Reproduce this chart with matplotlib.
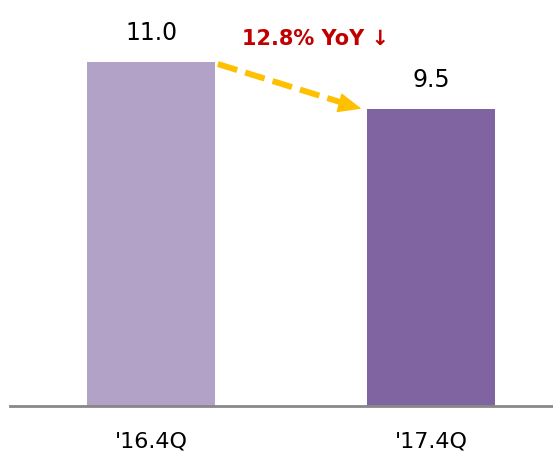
import matplotlib
matplotlib.use("Agg")
import matplotlib.pyplot as plt

categories = ["'16.4Q", "'17.4Q"]
values = [11.0, 9.5]
value_labels = ["11.0", "9.5"]
colors = ["#b3a2c7", "#8064a2"]
change_label = "12.8% YoY"

fig = plt.figure(figsize=(5.53, 4.53), dpi=100)
ax = fig.add_axes([10/553, 47/453, 543/553, 406/453])
x = list(range(len(categories)))
w = 0.457
ax.bar(x, values, width=w, color=colors, zorder=2)
ax.set_xlim(-0.504, 1.436)
ax.set_ylim(0, 13.0)
for s in ["top", "right", "left"]:
    ax.spines[s].set_visible(False)
ax.spines["bottom"].set_color("#888888")
ax.spines["bottom"].set_linewidth(2)
ax.set_yticks([])
ax.set_xticks(x)
ax.set_xticklabels(categories, fontsize=16, fontfamily="DejaVu Sans")
ax.tick_params(axis="x", length=0, pad=18)

for xi, v, lab in zip(x, values, value_labels):
    ax.text(xi, v + 0.55, lab, ha="center", va="bottom", fontsize=17, color="black")

# dashed arrow from bar1 top-right to bar2 top-left
x0, y0 = x[0] + w/2 + 0.01, values[0] - 0.05
x1, y1 = x[1] - w/2 - 0.02, values[1] + 0.02
fx = 0.9
xm, ym = x0 + (x1 - x0) * fx, y0 + (y1 - y0) * fx
ax.plot([x0, xm], [y0, ym], color="#ffc000", lw=4.3, ls=(0, (3.4, 1.4)),
        solid_capstyle="butt", dash_capstyle="butt", zorder=3)
ax.annotate("", xy=(x1, y1), xytext=(xm - 0.01, ym + 0.003),
            arrowprops=dict(arrowstyle="-|>,head_length=0.75,head_width=0.32",
                            mutation_scale=20, color="#ffc000", lw=1,
                            shrinkA=0, shrinkB=0), zorder=3)

ax.text(0.586, 11.75, change_label + " \u2193", ha="center", va="center",
        fontsize=15, color="#c00000", fontweight="bold")

fig.savefig("out.png", dpi=100)
